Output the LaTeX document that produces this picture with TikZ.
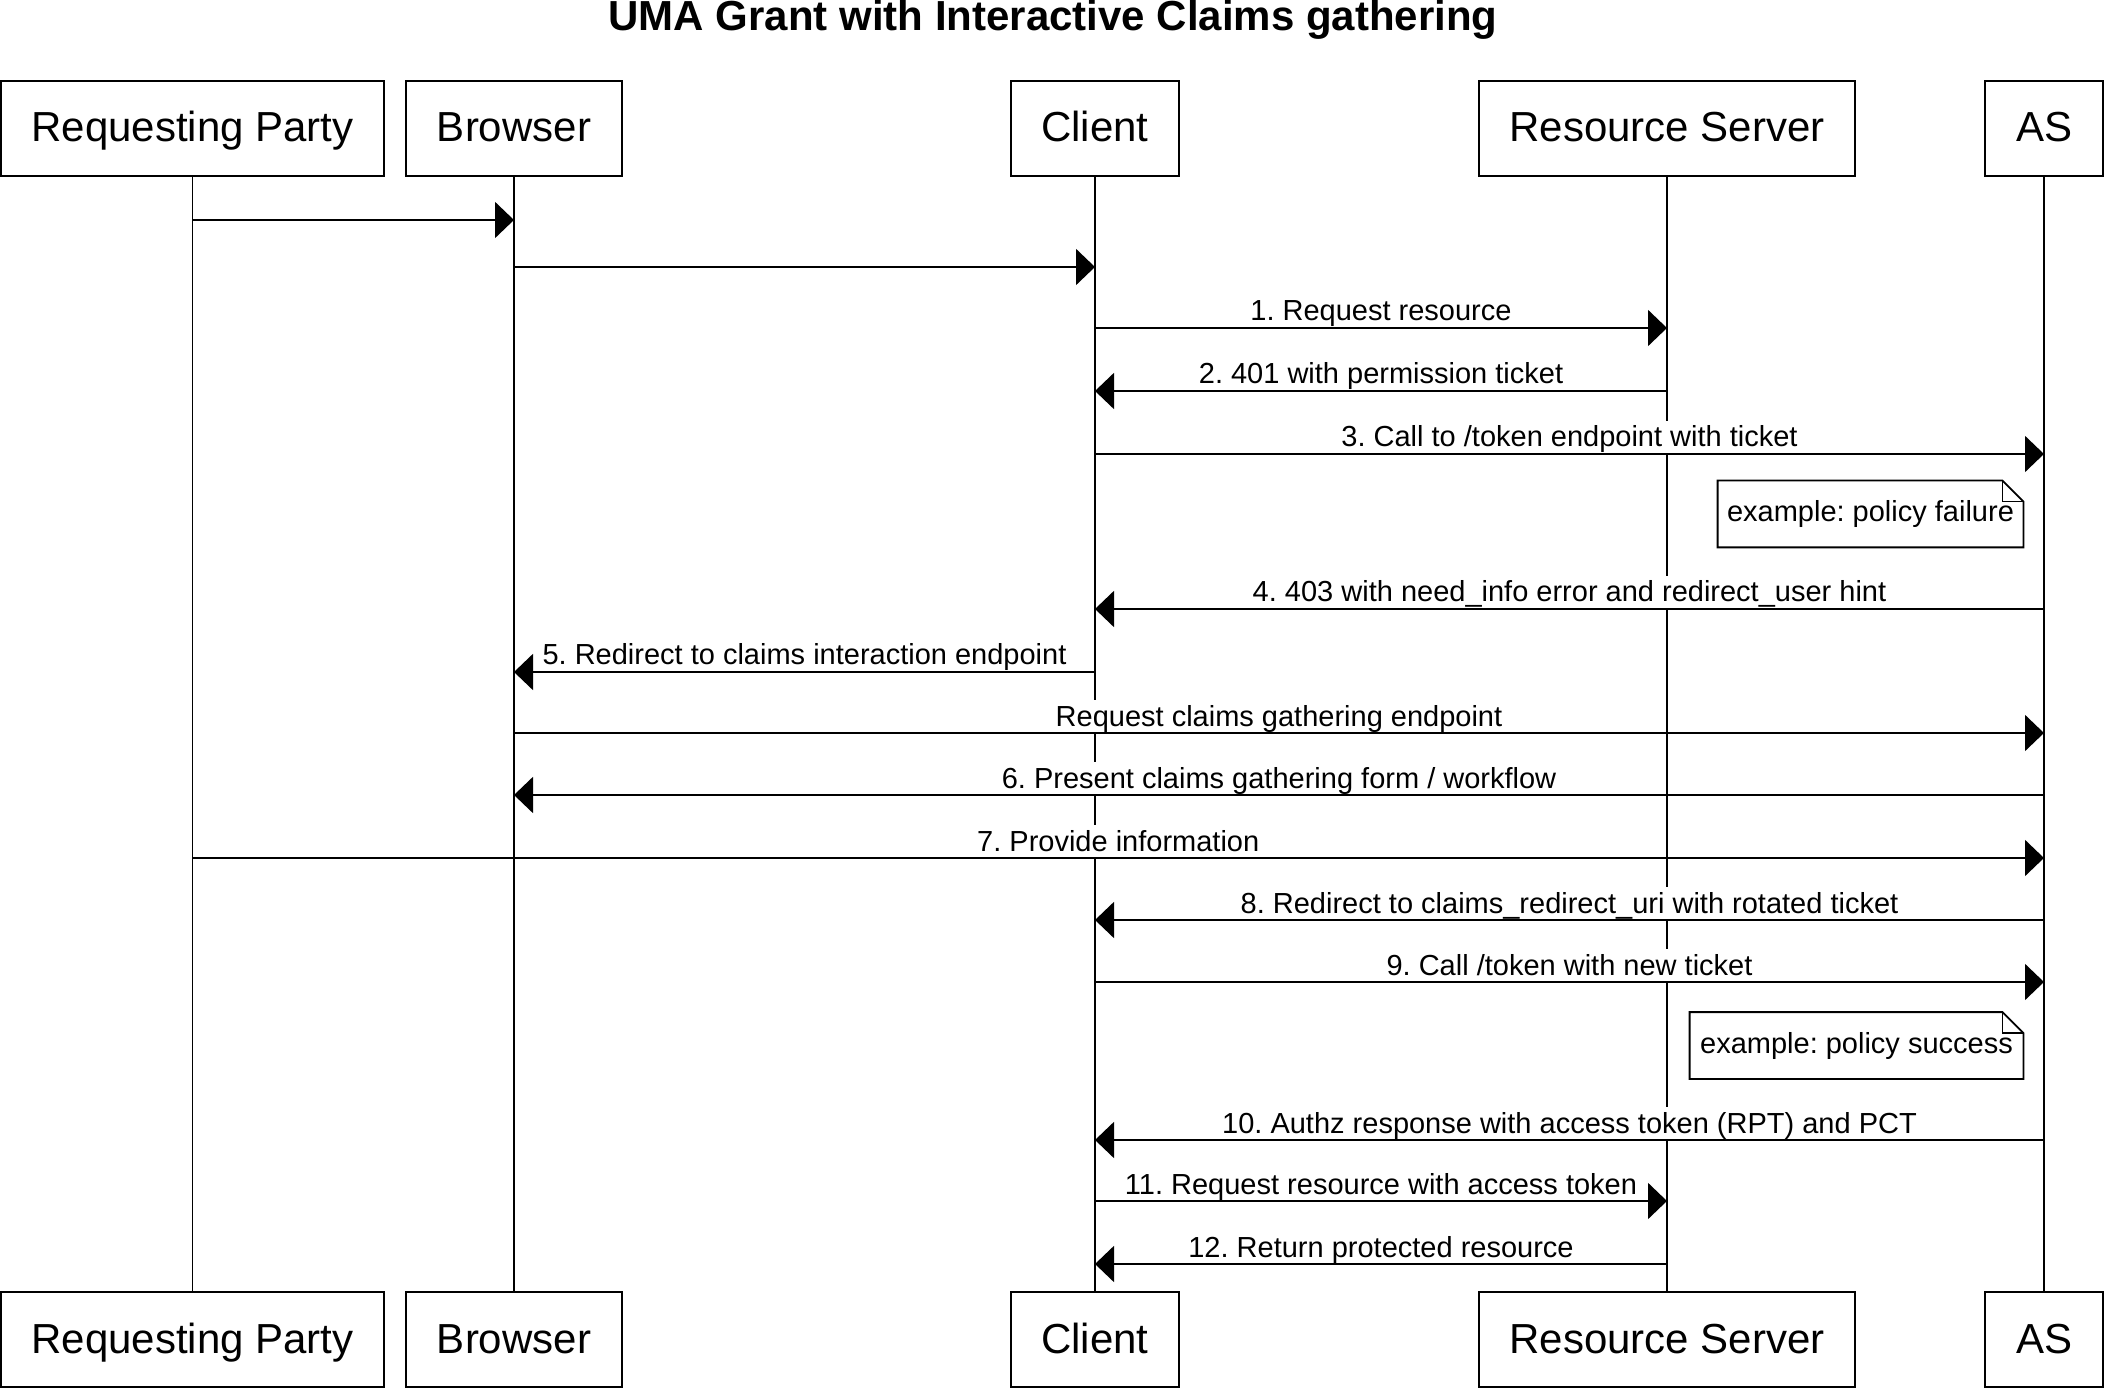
\documentclass[tikz,border=0pt]{standalone}
\usepackage{fontspec}
\setmainfont{Liberation Sans}
\frenchspacing
\usetikzlibrary{arrows.meta, positioning}
\tikzset{
  x=0.5pt, y=-0.5pt, % one unit is one pixel, y runs downwards
  actor/.style={draw, line width=1pt, minimum height=47.5pt, inner sep=0pt,
    text height=15pt, text depth=1.5pt, font=\fontsize{21}{25}\selectfont}, % the participant boxes
  lifeline/.style={line width=0.7pt}, % the vertical lines
  msg/.style={line width=0.9pt, -{Triangle[length=9.5pt, width=18pt]}}, % message arrows
  lbl/.style={anchor=base, yshift=3.5pt, fill=white, inner xsep=1pt, inner ysep=1pt,
    text height=12pt, text depth=2pt, font=\fontsize{14.5}{17}\selectfont}, % text over a message
  note/.style={minimum height=33pt, inner sep=0pt, font=\fontsize{14.5}{17}\selectfont}, % comment boxes
  notebox/.style={line width=0.9pt}, % outline of a comment
}
\begin{document}
\begin{tikzpicture}
  \useasboundingbox (0,0) rectangle (2106,1390);
  \node[anchor=base, font=\fontsize{21}{25}\selectfont\bfseries] (title) at (1053,31) {UMA Grant with Interactive Claims gathering};

  % participants, top row
  \node[actor, minimum width=191.5pt] (rp) at (192.5,128.5) {Requesting Party};
  \node[actor, minimum width=108pt] (br) at (514,128.5) {Browser};
  \node[actor, minimum width=84pt] (cl) at (1095,128.5) {Client};
  \node[actor, minimum width=188pt] (rs) at (1667,128.5) {Resource Server};
  \node[actor, minimum width=59pt] (as) at (2044,128.5) {AS};

  % participants, bottom row
  \node[actor, minimum width=191.5pt] (rpb) at (192.5,1339.5) {Requesting Party};
  \node[actor, minimum width=108pt] (brb) at (514,1339.5) {Browser};
  \node[actor, minimum width=84pt] (clb) at (1095,1339.5) {Client};
  \node[actor, minimum width=188pt] (rsb) at (1667,1339.5) {Resource Server};
  \node[actor, minimum width=59pt] (asb) at (2044,1339.5) {AS};

  \draw[lifeline]
  (rp.south) -- (rpb.north)
  (br.south) -- (brb.north)
  (cl.south) -- (clb.north)
  (rs.south) -- (rsb.north)
  (as.south) -- (asb.north);

  % rows of the messages
  \coordinate (s1) at (0,220);
  \coordinate (s2) at (0,267);
  \coordinate (s3) at (0,328);
  \coordinate (s4) at (0,391);
  \coordinate (s5) at (0,454);
  \coordinate (s6) at (0,609);
  \coordinate (s7) at (0,672);
  \coordinate (s8) at (0,733);
  \coordinate (s9) at (0,795);
  \coordinate (s10) at (0,858);
  \coordinate (s11) at (0,920);
  \coordinate (s12) at (0,982);
  \coordinate (s13) at (0,1140);
  \coordinate (s14) at (0,1201);
  \coordinate (s15) at (0,1264);

  \path[msg]
  (rp |- s1) edge (br |- s1)
  (br |- s2) edge (cl |- s2)
  (cl |- s3) edge node[lbl]{1. Request resource} (rs |- s3)
  (rs |- s4) edge node[lbl]{2. 401 with permission ticket} (cl |- s4)
  (cl |- s5) edge node[lbl]{3. Call to /token endpoint with ticket} (as |- s5)
  (as |- s6) edge node[lbl]{4. 403 with need\_info error and redirect\_user hint} (cl |- s6)
  (cl |- s7) edge node[lbl]{5. Redirect to claims interaction endpoint} (br |- s7)
  (br |- s8) edge node[lbl]{Request claims gathering endpoint} (as |- s8)
  (as |- s9) edge node[lbl]{6. Present claims gathering form / workflow} (br |- s9)
  (rp |- s10) edge node[lbl]{7. Provide information} (as |- s10)
  (as |- s11) edge node[lbl]{8. Redirect to claims\_redirect\_uri with rotated ticket} (cl |- s11)
  (cl |- s12) edge node[lbl]{9. Call /token with new ticket} (as |- s12)
  (as |- s13) edge node[lbl]{10. Authz response with access token (RPT) and PCT} (cl |- s13)
  (cl |- s14) edge node[lbl]{11. Request resource with access token} (rs |- s14)
  (rs |- s15) edge node[lbl]{12. Return protected resource} (cl |- s15)
  ;

  % comments on the AS side
  \node[note, minimum width=152.5pt] (n1) at (1870.5,514) {example: policy failure};
  \node[note, minimum width=166.5pt] (n2) at (1856.5,1045.5) {example: policy success};
  \foreach \n in {n1, n2} {
    \draw[notebox] (\n.north west) -- ([xshift=-10.5pt]\n.north east) -- ([yshift=-10.5pt]\n.north east)
      -- (\n.south east) -- (\n.south west) -- cycle;
    \draw[notebox] ([xshift=-10.5pt]\n.north east) |- ([yshift=-10.5pt]\n.north east);
  }
\end{tikzpicture}
\end{document}
